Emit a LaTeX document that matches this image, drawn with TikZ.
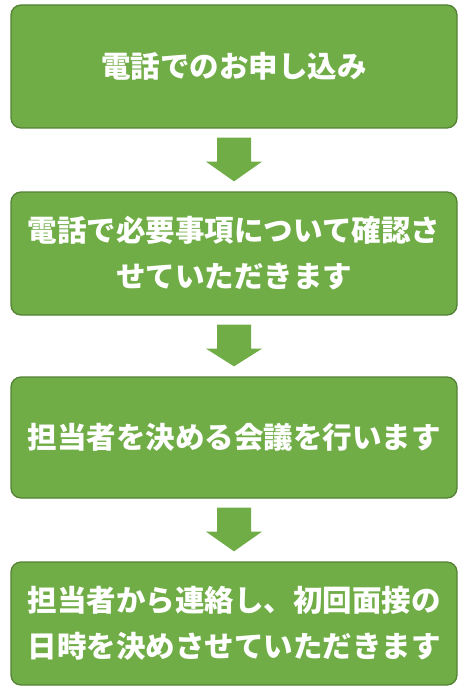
\documentclass[tikz,border=0pt]{standalone}
\usepackage{fontspec}
\newfontfamily\cjk{Noto Sans CJK JP}
\usetikzlibrary{calc}
\definecolor{boxfill}{HTML}{70AD47}
\definecolor{boxline}{HTML}{548235}
\begin{document}
\begin{tikzpicture}[x=1pt,y=-1pt,
  stepbox/.style={draw=boxline,line width=1.3pt,fill=boxfill,rounded corners=10pt,
    minimum width=446pt,inner sep=0pt,text=white,align=center,
    font=\cjk\bfseries\fontsize{29.5}{46}\selectfont},
  flowarrow/.style={fill=boxfill,draw=none}]
\useasboundingbox (0,0) rectangle (465,695);
\node[stepbox,minimum height=123pt] (b1) at (234,66.5) {電話でのお申し込み};
\node[stepbox,minimum height=123pt] (b2) at (234,253.5) {電話で必要事項について確認さ\\せていただきます};
\node[stepbox,minimum height=121pt] (b3) at (234,437.5) {担当者を決める会議を行います};
\node[stepbox,minimum height=123pt] (b4) at (234,623.5) {担当者から連絡し、初回面接の\\日時を決めさせていただきます};
\foreach \a/\b in {b1/b2,b2/b3,b3/b4}{
  \path[flowarrow] ($(\a.south)+(-17,9)$) -- ($(\a.south)+(17,9)$)
    -- ($(\a.south)+(17,33)$) -- ($(\a.south)+(28,33)$)
    -- ($(\b.north)+(0,-10)$) -- ($(\a.south)+(-28,33)$)
    -- ($(\a.south)+(-17,33)$) -- cycle;
}
\end{tikzpicture}
\end{document}
